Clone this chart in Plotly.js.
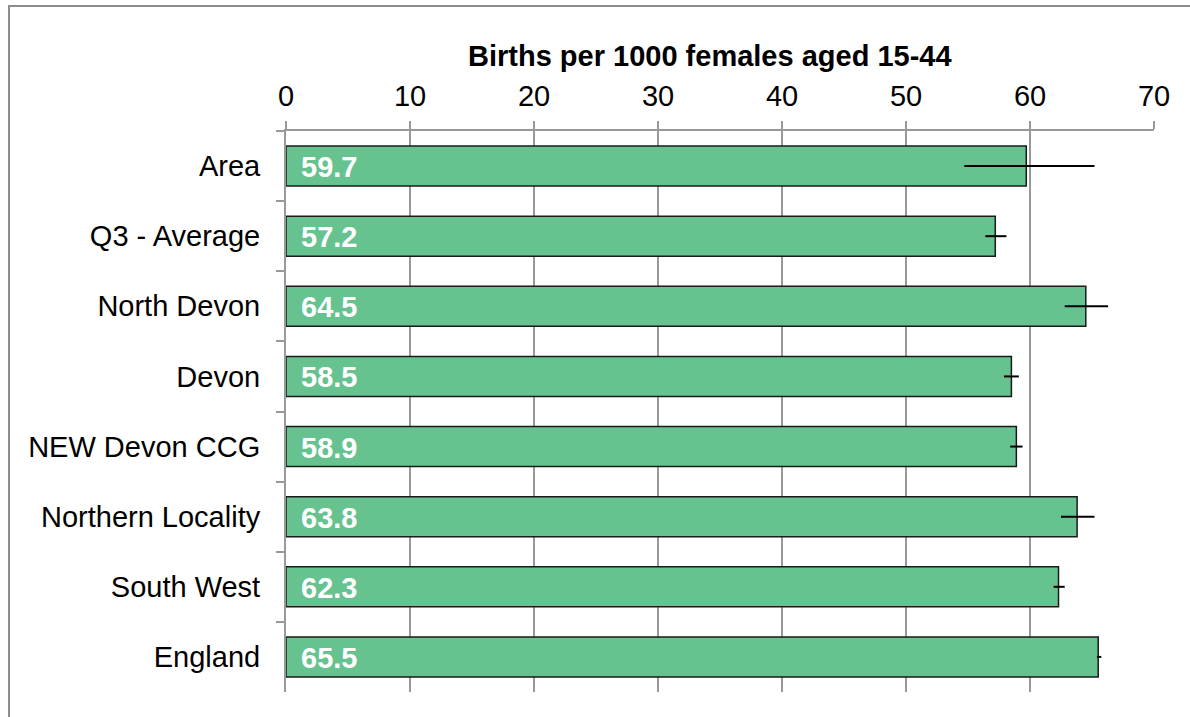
<!DOCTYPE html>
<html>
<head>
<meta charset="utf-8">
<script src="https://cdn.plot.ly/plotly-3.0.1.min.js"></script>
<style>
  html, body { margin: 0; padding: 0; background: #fff; }
  #wrap { position: relative; width: 1190px; height: 717px; }
  #chart { position: absolute; left: 0; top: 0; width: 1190px; height: 717px; }
  #frameTop { position: absolute; left: 8px; top: 5px; width: 1182px; height: 2px; background: #8c8c8c; }
  #frameLeft { position: absolute; left: 8px; top: 5px; width: 2px; height: 712px; background: #8c8c8c; }
</style>
</head>
<body>
<div id="wrap">
  <div id="chart"></div>
  <div id="frameTop"></div>
  <div id="frameLeft"></div>
</div>
<script>
const categories = ["Area", "Q3 - Average", "North Devon", "Devon", "NEW Devon CCG", "Northern Locality", "South West", "England"];
const values = [59.7, 57.2, 64.5, 58.5, 58.9, 63.8, 62.3, 65.5];
const ciLower = [54.7, 56.4, 62.8, 57.9, 58.4, 62.5, 61.9, 65.4];
const ciUpper = [65.2, 58.1, 66.3, 59.1, 59.4, 65.2, 62.8, 65.75];
const xTickValues = [0, 10, 20, 30, 40, 50, 60, 70];
const axisTitle = "Births per 1000 females aged 15-44";

const FONT = "Liberation Sans, Arial, sans-serif";

const trace = {
  type: "bar",
  orientation: "h",
  y: categories,
  x: values,
  marker: { color: "#66c28e", line: { color: "#1a1a1a", width: 1.5 } },
  error_x: {
    type: "data",
    symmetric: false,
    array: values.map((v, i) => ciUpper[i] - v),
    arrayminus: values.map((v, i) => v - ciLower[i]),
    color: "#000",
    thickness: 2,
    width: 0
  },
  hoverinfo: "x+y"
};

const annotations = categories.map((c, i) => ({
  x: 0, y: c, xref: "x", yref: "y",
  text: "<b>" + values[i].toFixed(1) + "</b>",
  showarrow: false, xanchor: "left", yanchor: "middle",
  xshift: 13, yshift: -1,
  font: { family: FONT, size: 29, color: "#ffffff" }
}));

annotations.push({
  xref: "paper", yref: "paper",
  x: 0.488, y: 1, yshift: 75,
  xanchor: "center", yanchor: "middle",
  text: "<b>" + axisTitle + "</b>",
  showarrow: false,
  font: { family: FONT, size: 29, color: "#000" }
});

const layout = {
  width: 1190, height: 717,
  margin: { l: 286, r: 36, t: 131, b: 25 },
  paper_bgcolor: "#fff", plot_bgcolor: "#fff",
  showlegend: false,
  bargap: 0.43,
  font: { family: FONT, size: 29, color: "#000" },
  xaxis: {
    side: "top",
    range: [0, 70],
    tickvals: xTickValues,
    ticktext: xTickValues.map(String),
    ticks: "outside", ticklen: 8, tickwidth: 2, tickcolor: "#999",
    showline: true, linecolor: "#999", linewidth: 2,
    showgrid: true, gridcolor: "#999", gridwidth: 2,
    zeroline: false,
    ticklabelstandoff: 3,
    tickfont: { family: FONT, size: 29, color: "#000" }
  },
  yaxis: {
    type: "category",
    autorange: "reversed",
    tickson: "boundaries",
    ticks: "outside", ticklen: 8, tickwidth: 2, tickcolor: "#999",
    showline: true, linecolor: "#999", linewidth: 2,
    showgrid: false, zeroline: false,
    ticklabelstandoff: 18,
    tickfont: { family: FONT, size: 29, color: "#000" }
  },
  annotations: annotations
};

Plotly.newPlot("chart", [trace], layout, { staticPlot: true, displayModeBar: false });
</script>
</body>
</html>
